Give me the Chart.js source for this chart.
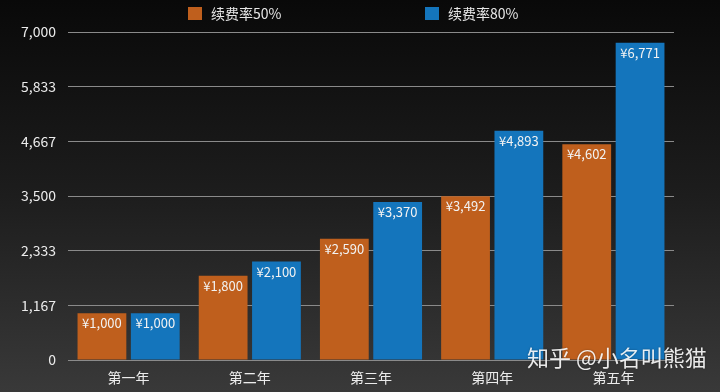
<!DOCTYPE html>
<html>
<head>
<meta charset="utf-8">
<script src="https://cdn.jsdelivr.net/npm/chart.js@4"></script>
<style>
  html, body { margin: 0; padding: 0; background: #000; }
  #wrap { width: 720px; height: 392px; position: relative; }
</style>
</head>
<body>
<div id="wrap"><canvas id="chart-renewal"></canvas></div>
<script>
// data
const years = ['第一年', '第二年', '第三年', '第四年', '第五年'];
const rate50 = [1000, 1800, 2590, 3492, 4602];
const rate80 = [1000, 2100, 3370, 4893, 6771];
const seriesNames = ['续费率50%', '续费率80%'];
const yMax = 7000;
const yStep = 7000 / 6;
const watermark = '知乎 @小名叫熊猫';

const FONT = '"Noto Sans CJK SC", "Noto Sans", sans-serif';
const ORANGE = '#bf5f1d';
const BLUE = '#1475bc';

const fmt = v => Math.round(v).toLocaleString('en-US');

// dark gradient background
const bgPlugin = {
  id: 'bg',
  beforeDraw(chart) {
    const { ctx, width, height } = chart;
    const g = ctx.createLinearGradient(0, 0, 0, height);
    g.addColorStop(0, '#090909');
    g.addColorStop(0.5, '#1d1d1d');
    g.addColorStop(1, '#393939');
    ctx.save();
    ctx.fillStyle = g;
    ctx.fillRect(0, 0, width, height);
    ctx.restore();
  }
};

// legend drawn at fixed spots, like the original
const legendPlugin = {
  id: 'myLegend',
  afterDraw(chart) {
    const { ctx } = chart;
    const xs = [188, 425];
    ctx.save();
    ctx.font = '14px ' + FONT;
    ctx.textBaseline = 'middle';
    chart.data.datasets.forEach((ds, i) => {
      ctx.fillStyle = ds.backgroundColor;
      ctx.fillRect(xs[i], 7, 14, 13);
      ctx.fillStyle = '#e6e6e6';
      ctx.fillText(ds.label, xs[i] + 23, 14);
    });
    ctx.restore();
  }
};

// value labels inside the top of each bar
const valuePlugin = {
  id: 'values',
  afterDatasetsDraw(chart) {
    const { ctx } = chart;
    ctx.save();
    ctx.font = '13px ' + FONT;
    ctx.fillStyle = '#f2f2f2';
    ctx.textAlign = 'center';
    ctx.textBaseline = 'middle';
    chart.data.datasets.forEach((ds, i) => {
      chart.getDatasetMeta(i).data.forEach((bar, j) => {
        ctx.fillText('¥' + fmt(ds.data[j]), bar.x, bar.y + 10);
      });
    });
    ctx.restore();
  }
};

const markPlugin = {
  id: 'watermark',
  afterDraw(chart) {
    const { ctx } = chart;
    ctx.save();
    ctx.font = '22px ' + FONT;
    ctx.fillStyle = 'rgba(255,255,255,0.9)';
    ctx.shadowColor = 'rgba(0,0,0,0.4)';
    ctx.shadowBlur = 2;
    ctx.textBaseline = 'middle';
    ctx.fillText(watermark, 527, 358);
    ctx.restore();
  }
};

new Chart(document.getElementById('chart-renewal'), {
  type: 'bar',
  data: {
    labels: years,
    datasets: [
      { label: seriesNames[0], data: rate50, backgroundColor: ORANGE },
      { label: seriesNames[1], data: rate80, backgroundColor: BLUE }
    ]
  },
  options: {
    responsive: true,
    maintainAspectRatio: false,
    animation: false,
    datasets: { bar: { categoryPercentage: 0.88, barPercentage: 0.915 } },
    layout: { padding: { top: 32, right: 46, left: 0, bottom: 0 } },
    plugins: {
      legend: { display: false },
      tooltip: { enabled: false }
    },
    scales: {
      x: {
        grid: { display: false, drawTicks: false },
        border: { display: false },
        ticks: { color: '#ececec', font: { family: FONT, size: 14 }, padding: 9 },
        afterFit(scale) { scale.height = 32; }
      },
      y: {
        min: 0,
        max: yMax,
        grid: { color: '#8a8a8a', lineWidth: 1, drawTicks: false },
        border: { display: false },
        ticks: {
          stepSize: yStep,
          color: '#ececec',
          padding: 12,
          font: { family: FONT, size: 14 },
          callback: v => fmt(v)
        },
        afterFit(scale) { scale.width = 68; }
      }
    }
  },
  plugins: [bgPlugin, valuePlugin, legendPlugin, markPlugin]
});
</script>
</body>
</html>
